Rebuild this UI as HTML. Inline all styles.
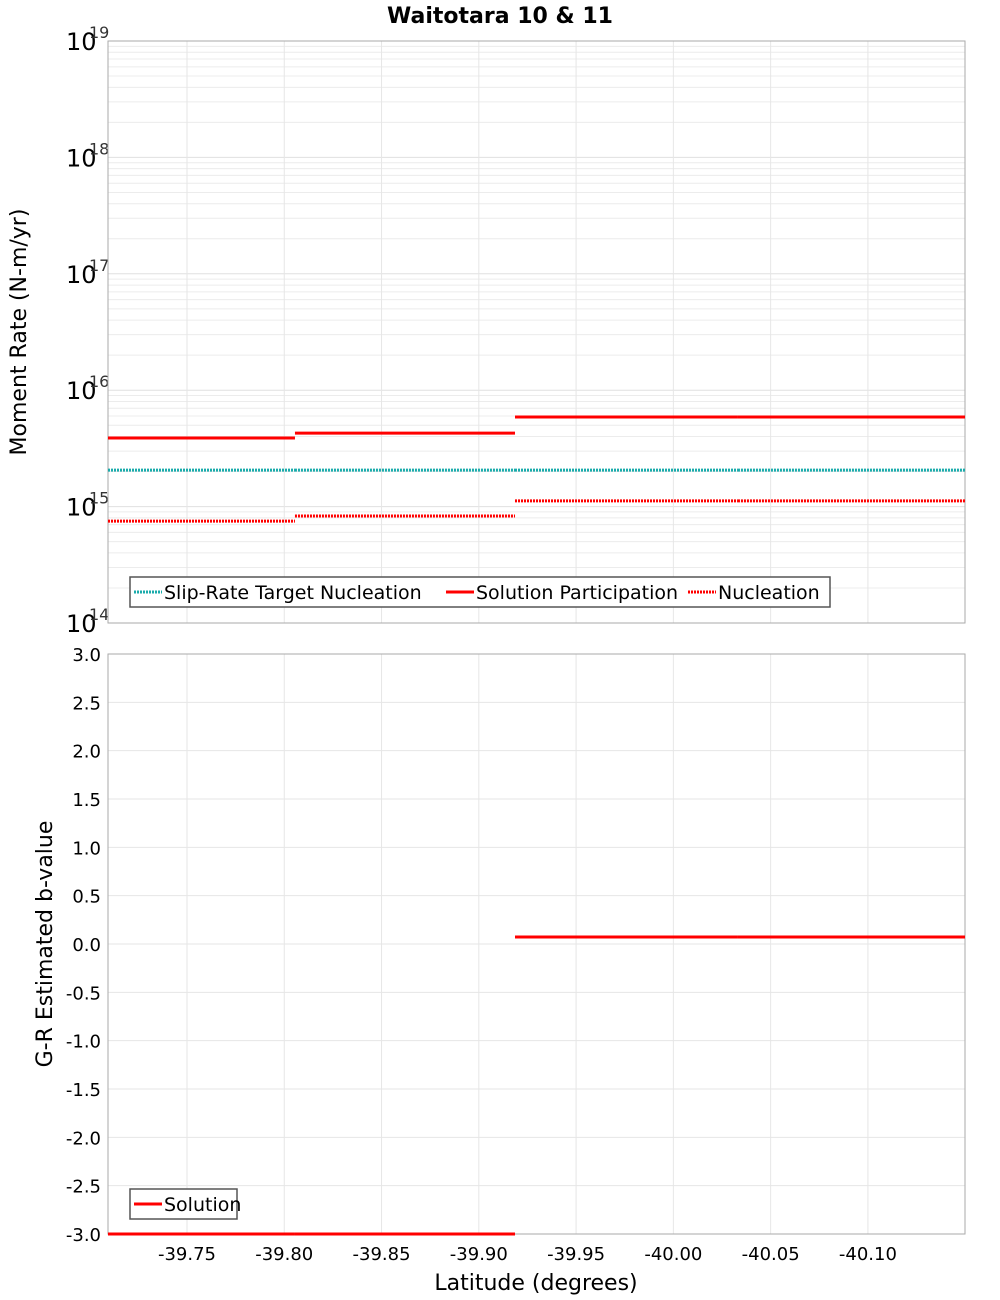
<!DOCTYPE html>
<html><head><meta charset="utf-8">
<style>
body{margin:0;background:#fff;}
svg{display:block;font-family:"Liberation Sans","DejaVu Sans",sans-serif;}
</style></head>
<body>
<svg id="chart" width="1000" height="1300" xmlns="http://www.w3.org/2000/svg">
<text x="500" y="23" text-anchor="middle" font-size="22" font-weight="bold" font-family="DejaVu Sans, sans-serif">Waitotara 10 &amp; 11</text>
<g id="topPanel"></g>
<g id="botPanel"></g>
<text transform="translate(26,332) rotate(-90)" text-anchor="middle" font-size="22" font-family="DejaVu Sans, sans-serif">Moment Rate (N-m/yr)</text>
<text transform="translate(52,944) rotate(-90)" text-anchor="middle" font-size="22" font-family="DejaVu Sans, sans-serif">G-R Estimated b-value</text>
<text x="536" y="1290" text-anchor="middle" font-size="22" font-family="DejaVu Sans, sans-serif">Latitude (degrees)</text>
</svg>
<script>
// data
const binEdges = [-39.7094, -39.8055, -39.9186, -40.0332, -40.1499];
const targetNucleation = [2.06e15, 2.06e15, 2.06e15, 2.06e15];
const solutionParticipation = [3.88e15, 4.28e15, 5.89e15, 5.89e15];
const nucleation = [7.5e14, 8.3e14, 1.12e15, 1.12e15];
const bValues = [-3.0, -3.0, 0.073, 0.073];
const xTicks = [-39.75, -39.80, -39.85, -39.90, -39.95, -40.00, -40.05, -40.10];
const xTickLabels = ["-39.75","-39.80","-39.85","-39.90","-39.95","-40.00","-40.05","-40.10"];
const logDecades = [14, 15, 16, 17, 18, 19];
const bTicks = [3.0,2.5,2.0,1.5,1.0,0.5,0.0,-0.5,-1.0,-1.5,-2.0,-2.5,-3.0];

const NS = "http://www.w3.org/2000/svg";
const L = 108, R = 965;
const T1 = 41, B1 = 623, T2 = 654, B2 = 1234;
const xMin = binEdges[0], xMax = binEdges[binEdges.length-1];
function xs(v){ return L + (v - xMin) / (xMax - xMin) * (R - L); }
function ysLog(v){ return B1 - (Math.log10(v) - 14) / 5 * (B1 - T1); }
function ysB(v){ return B2 - (v + 3) / 6 * (B2 - T2); }
function mk(parent, tag, attrs){ const e = document.createElementNS(NS, tag); for (const k in attrs) e.setAttribute(k, attrs[k]); parent.appendChild(e); return e; }

const topG = document.getElementById('topPanel');
const botG = document.getElementById('botPanel');

for (let d = 14; d < 19; d++) {
  for (let m = 1; m <= 9; m++) {
    const y = ysLog(m * Math.pow(10, d));
    const g = mk(topG, 'line', {x1:L, x2:R, y1:y, y2:y, stroke: m===1 ? '#e0e0e0' : '#ececec', 'stroke-width':1});
    
    
  }
}
xTicks.forEach((v, i) => {
  const x = xs(v);
  const g = mk(topG, 'line', {x1:x, x2:x, y1:T1, y2:B1, stroke:'#e6e6e6', 'stroke-width':1});
  
  
  const g2 = mk(botG, 'line', {x1:x, x2:x, y1:T2, y2:B2, stroke:'#e6e6e6', 'stroke-width':1});
  
  
  const t = mk(botG, 'text', {x:x, y:1260, 'text-anchor':'middle', 'font-size':18, 'font-family':'DejaVu Sans, sans-serif'});
  t.textContent = xTickLabels[i];
  
  
});
bTicks.forEach(v => {
  const y = ysB(v);
  const g = mk(botG, 'line', {x1:L, x2:R, y1:y, y2:y, stroke:'#e6e6e6', 'stroke-width':1});
  
  
  const t = mk(botG, 'text', {x:101, y:y+7, 'text-anchor':'end', 'font-size':18, 'font-family':'DejaVu Sans, sans-serif'});
  t.textContent = v.toFixed(1);
  
  
});
logDecades.forEach(d => {
  const y = ysLog(Math.pow(10, d));
  const t = mk(topG, 'text', {x:66, y:y+9, 'font-size':24, 'font-family':'DejaVu Sans, sans-serif'});
  t.textContent = '10';
  
  
  const s = mk(topG, 'text', {x:89, y:y-3, 'font-size':16, fill:'#333', 'font-family':'DejaVu Sans, sans-serif'});
  s.textContent = String(d);
  
  
});

const f1 = mk(topG, 'rect', {x:L, y:T1, width:R-L, height:B1-T1, fill:'none', stroke:'#aaa'});


const f2 = mk(botG, 'rect', {x:L, y:T2, width:R-L, height:B2-T2, fill:'none', stroke:'#aaa'});



function steps(parent, vals, yf, color, dash, name){
  vals.forEach((v, i) => {
    const y = yf(v);
    const a = {x1:xs(binEdges[i]), x2:xs(binEdges[i+1]), y1:y, y2:y, stroke:color, 'stroke-width':3};
    if (dash) a['stroke-dasharray'] = dash;
    const ln = mk(parent, 'line', a);
    
    
  });
}
steps(topG, targetNucleation, ysLog, '#1aabab', '2 1', 'slip-rate-target-nucleation');
steps(topG, nucleation, ysLog, '#ff0000', '2 1', 'nucleation');
steps(topG, solutionParticipation, ysLog, '#ff0000', null, 'solution-participation');
steps(botG, bValues, ysB, '#ff0000', null, 'solution-b-value');

function legend(parent, x, y, w, items, name){
  const g = mk(parent, 'g', {});
  
  
  const r = mk(g, 'rect', {x:x, y:y, width:w, height:30, fill:'#fff', stroke:'#555', 'stroke-width':1.5});
  
  
  let cx = x + 4;
  items.forEach(it => {
    const a = {x1:cx, x2:cx+28, y1:y+15, y2:y+15, stroke:it.c, 'stroke-width':3};
    if (it.d) a['stroke-dasharray'] = it.d;
    const l = mk(g, 'line', a);
    
    
    const t = mk(g, 'text', {x:cx+30, y:y+22, 'font-size':19, 'font-family':'DejaVu Sans, sans-serif'});
    t.textContent = it.t;
    
    
    cx += it.w;
  });
}
legend(topG, 130, 577, 700, [
  {t:'Slip-Rate Target Nucleation', c:'#1aabab', d:'2 1', w:312},
  {t:'Solution Participation', c:'#ff0000', d:null, w:242},
  {t:'Nucleation', c:'#ff0000', d:'2 1', w:140}
], 'top-legend');
legend(botG, 130, 1189, 107, [{t:'Solution', c:'#ff0000', d:null, w:100}], 'bottom-legend');
</script>
</body></html>
